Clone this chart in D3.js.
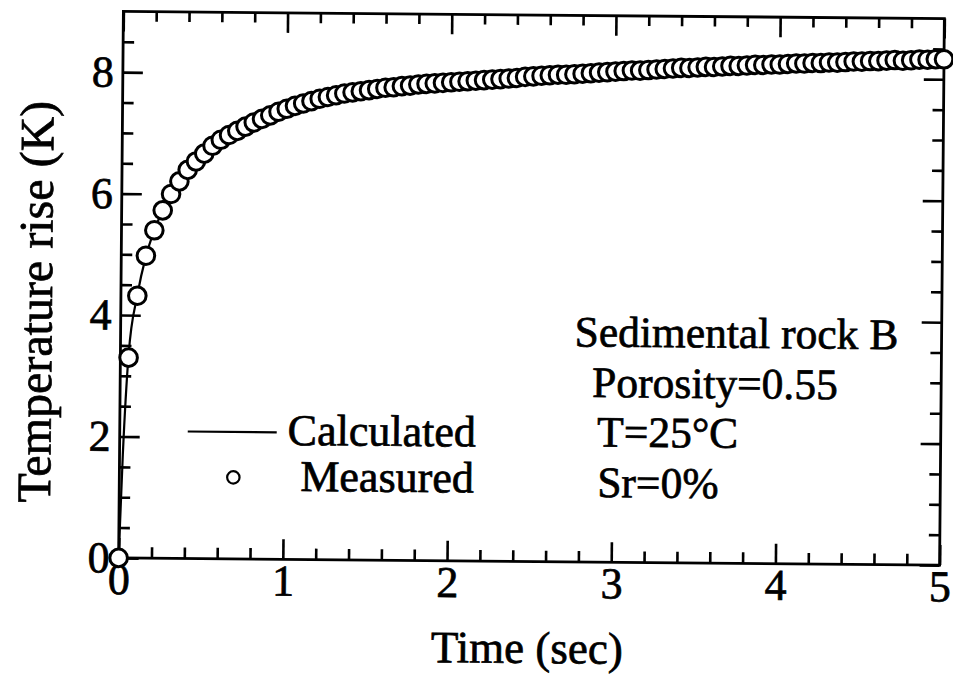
<!DOCTYPE html>
<html>
<head>
<meta charset="utf-8">
<script src="https://cdn.jsdelivr.net/npm/d3@7"></script>
<style>
  body { margin: 0; background: #fff; }
  text { font-family: "Liberation Serif", "Times New Roman", serif; fill: #000; stroke: #000; stroke-width: 0.7px; }
</style>
</head>
<body>
<svg id="chart" width="953" height="677"></svg>
<script>
// measured points (sec, K)
const times = [
  0, 0.05, 0.1, 0.15, 0.2, 0.25, 0.3, 0.35, 0.4, 0.45,
  0.5, 0.55, 0.6, 0.65, 0.7, 0.75, 0.8, 0.85, 0.9, 0.95,
  1, 1.05, 1.1, 1.15, 1.2, 1.25, 1.3, 1.35, 1.4, 1.45,
  1.5, 1.55, 1.6, 1.65, 1.7, 1.75, 1.8, 1.85, 1.9, 1.95,
  2, 2.05, 2.1, 2.15, 2.2, 2.25, 2.3, 2.35, 2.4, 2.45,
  2.5, 2.55, 2.6, 2.65, 2.7, 2.75, 2.8, 2.85, 2.9, 2.95,
  3, 3.05, 3.1, 3.15, 3.2, 3.25, 3.3, 3.35, 3.4, 3.45,
  3.5, 3.55, 3.6, 3.65, 3.7, 3.75, 3.8, 3.85, 3.9, 3.95,
  4, 4.05, 4.1, 4.15, 4.2, 4.25, 4.3, 4.35, 4.4, 4.45,
  4.5, 4.55, 4.6, 4.65, 4.7, 4.75, 4.8, 4.85, 4.9, 4.95,
  5
];
const measured = [
  0, 3.30, 4.32, 4.98, 5.40, 5.73, 6.00, 6.21, 6.40, 6.54,
  6.67, 6.80, 6.90, 6.98, 7.05, 7.12, 7.19, 7.25, 7.31, 7.37,
  7.42, 7.47, 7.51, 7.55, 7.59, 7.62, 7.65, 7.68, 7.70, 7.72,
  7.74, 7.76, 7.78, 7.79, 7.81, 7.82, 7.84, 7.85, 7.86, 7.87,
  7.88, 7.89, 7.90, 7.91, 7.92, 7.93, 7.94, 7.95, 7.96, 7.98,
  7.99, 8.00, 8.01, 8.02, 8.02, 8.03, 8.04, 8.05, 8.06, 8.07,
  8.08, 8.09, 8.10, 8.10, 8.11, 8.12, 8.13, 8.14, 8.15, 8.15,
  8.16, 8.17, 8.17, 8.18, 8.19, 8.19, 8.20, 8.21, 8.21, 8.22,
  8.22, 8.23, 8.24, 8.24, 8.25, 8.25, 8.26, 8.26, 8.27, 8.28,
  8.28, 8.29, 8.29, 8.30, 8.31, 8.30, 8.31, 8.32, 8.32, 8.33,
  8.33
];

// calculated curve
const calcTimes  = [0, 0.02, 0.05, 0.1, 0.15, 0.2, 0.3, 0.4, 0.5, 0.6, 0.8, 1, 1.25, 1.5, 2, 2.5, 3, 3.5, 4, 4.5, 5];
const calcValues = [0, 1.7, 3.35, 4.33, 4.97, 5.4, 6.0, 6.4, 6.67, 6.9, 7.19, 7.42, 7.62, 7.74, 7.88, 7.99, 8.08, 8.16, 8.22, 8.28, 8.33];

const xMajor = [0, 1, 2, 3, 4, 5];
const xMinor = [0.2, 0.4, 0.6, 0.8, 1.2, 1.4, 1.6, 1.8, 2.2, 2.4, 2.6, 2.8, 3.2, 3.4, 3.6, 3.8, 4.2, 4.4, 4.6, 4.8];
const yMajor = [0, 2, 4, 6, 8];
const yMinor = [0.5, 1, 1.5, 2.5, 3, 3.5, 4.5, 5, 5.5, 6.5, 7, 7.5, 8.5];

const legendLabels = ["Calculated", "Measured"];
const noteLines = ["Sedimental rock B", "Porosity=0.55", "T=25°C", "Sr=0%"];

const svg = d3.select("#chart");
const plotLeft = 121, plotTop = 15, plotW = 821, plotH = 546.5;

const x = d3.scaleLinear().domain([0, 5]).range([plotLeft, plotLeft + plotW]);
const y = d3.scaleLinear().domain([0, 9]).range([plotTop + plotH, plotTop]);

// the scanned figure sits slightly tilted
const g = svg.append("g").attr("transform", "rotate(0.5,531,288)");

function styleAxis(sel) {
  sel.select(".domain").remove();
  sel.selectAll(".tick line").attr("stroke", "#000").attr("stroke-width", 2.6);
  sel.selectAll("text").style("font-size", "44px").attr("font-family", null);
}

// bottom
g.append("g").attr("transform", `translate(0,${plotTop + plotH})`)
  .call(d3.axisBottom(x).tickValues(xMinor).tickSize(-11).tickFormat(""))
  .call(styleAxis);
g.append("g").attr("transform", `translate(0,${plotTop + plotH})`)
  .call(d3.axisBottom(x).tickValues(xMajor).tickSize(-20).tickPadding(5).tickFormat(d3.format("d")))
  .call(styleAxis);
// top
g.append("g").attr("transform", `translate(0,${plotTop})`)
  .call(d3.axisTop(x).tickValues(xMinor).tickSize(-10).tickFormat(""))
  .call(styleAxis);
g.append("g").attr("transform", `translate(0,${plotTop})`)
  .call(d3.axisTop(x).tickValues(xMajor).tickSize(-20).tickFormat(""))
  .call(styleAxis);
// left
g.append("g").attr("transform", `translate(${plotLeft},0)`)
  .call(d3.axisLeft(y).tickValues(yMinor).tickSize(-11).tickFormat(""))
  .call(styleAxis);
g.append("g").attr("transform", `translate(${plotLeft},0)`)
  .call(d3.axisLeft(y).tickValues(yMajor).tickSize(-20).tickPadding(9).tickFormat(d3.format("d")))
  .call(styleAxis);
// right
g.append("g").attr("transform", `translate(${plotLeft + plotW},0)`)
  .call(d3.axisRight(y).tickValues(yMinor).tickSize(-11).tickFormat(""))
  .call(styleAxis);
g.append("g").attr("transform", `translate(${plotLeft + plotW},0)`)
  .call(d3.axisRight(y).tickValues(yMajor).tickSize(-20).tickFormat(""))
  .call(styleAxis);

// frame
g.append("rect")
  .attr("x", plotLeft).attr("y", plotTop).attr("width", plotW).attr("height", plotH)
  .attr("fill", "none").attr("stroke", "#000").attr("stroke-width", 2.8);

// calculated line
const line = d3.line().x(d => x(d[0])).y(d => y(d[1])).curve(d3.curveMonotoneX);
g.append("path")
  .datum(calcTimes.map((t, i) => [t, calcValues[i]]))
  .attr("d", line)
  .attr("fill", "none").attr("stroke", "#000").attr("stroke-width", 2.2);

// measured circles
g.append("g").selectAll("circle")
  .data(times.map((t, i) => [t, measured[i]]))
  .enter().append("circle")
  .attr("cx", d => x(d[0])).attr("cy", d => y(d[1]))
  .attr("r", 8.8)
  .attr("fill", "#fff").attr("stroke", "#000").attr("stroke-width", 3);

// axis titles
g.append("text")
  .attr("x", 530).attr("y", 663)
  .attr("text-anchor", "middle")
  .style("font-size", "45px")
  .text("Time (sec)");

g.append("text")
  .attr("transform", "translate(52,306) rotate(-90)")
  .attr("text-anchor", "middle")
  .style("font-size", "48px")
  .text("Temperature rise (K)");

// legend
g.append("line")
  .attr("x1", 189).attr("x2", 278).attr("y1", 434.5).attr("y2", 434.5)
  .attr("stroke", "#000").attr("stroke-width", 2.2);
g.append("text").attr("x", 289).attr("y", 447).style("font-size", "44px").text(legendLabels[0]);
g.append("circle")
  .attr("cx", 235).attr("cy", 480).attr("r", 6.2)
  .attr("fill", "#fff").attr("stroke", "#000").attr("stroke-width", 2.2);
g.append("text").attr("x", 302).attr("y", 493).style("font-size", "44px").text(legendLabels[1]);

// note
const noteX = [575, 593, 598.5, 599];
const noteY = [346, 396.5, 446, 496.5];
g.append("g").selectAll("text")
  .data(noteLines)
  .enter().append("text")
  .attr("x", (d, i) => noteX[i]).attr("y", (d, i) => noteY[i])
  .style("font-size", "43.5px")
  .text(d => d);
</script>
</body>
</html>
